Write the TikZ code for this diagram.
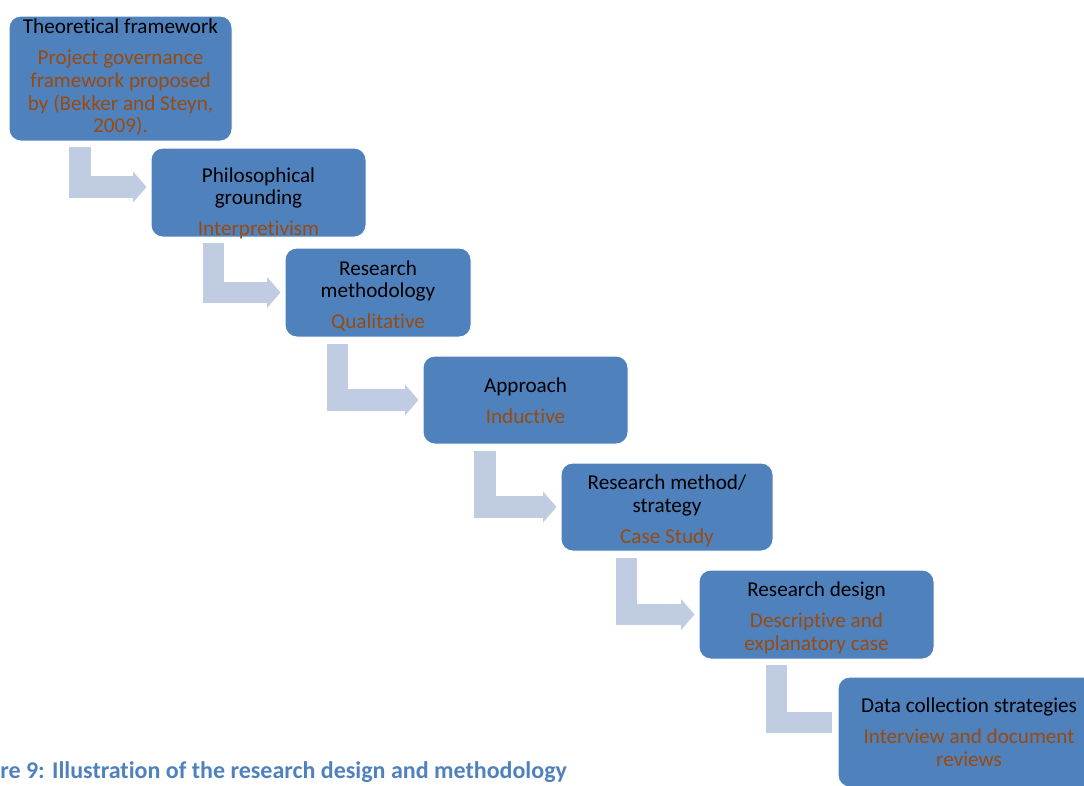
\documentclass[tikz,border=0pt]{standalone}
\usepackage{fontspec}
\setmainfont[Ligatures=NoCommon]{Carlito}
\usetikzlibrary{arrows.meta}
\definecolor{boxFill}{HTML}{4F81BD}
\definecolor{subText}{HTML}{9A4A0E}
\definecolor{arrowFill}{HTML}{C0CCE2}
\definecolor{captionBlue}{HTML}{4F81BD}
\newcommand{\subline}[1]{\textcolor{subText}{#1}}
\tikzset{
  stage/.style={
    draw=white, fill=boxFill, rounded corners=7pt, line width=0.6pt,
    inner sep=0pt,
  },
  stagetext/.style={
    inner sep=0pt, align=center, text=black,
    font=\fontsize{12.7}{13.6}\selectfont,
  },
  bentarrow/.style={
    -{Triangle[length=8pt, width=18pt]}, line width=12.9pt, draw=arrowFill,
    shorten >=2.4pt,
  },
  bentbar/.style={
    line width=12.9pt, draw=arrowFill, shorten >=3.6pt,
  },
}

\begin{document}
\begin{tikzpicture}[x=0.6pt, y=-0.6pt]
  \useasboundingbox (0,0) rectangle (1084,785);

  % === Stage boxes ===
  \node[stage, minimum width=133.8pt, minimum height=75pt] (theory) at (120.5,78.5) {};
  \node[stage, minimum width=129pt, minimum height=53.4pt] (philo) at (258.5,192.5) {};
  \node[stage, minimum width=111.6pt, minimum height=53.4pt] (method) at (378,292.5) {};
  \node[stage, minimum width=123pt, minimum height=52.8pt] (approach) at (525.5,400) {};
  \node[stage, minimum width=127.2pt, minimum height=52.8pt] (strategy) at (667,507) {};
  \node[stage, minimum width=141pt, minimum height=53.4pt] (design) at (816.5,614.5) {};
  \node[stage, minimum width=157.2pt, minimum height=66pt] (collect) at (969,732) {};

  % === Stage texts (set a little lower than the box centres, as in the figure) ===
  \node[stagetext] (theoryText) at (120.5,77.5)
    {Theoretical framework\\[5pt]\subline{Project governance}\\\subline{framework proposed}\\\subline{by (Bekker and Steyn,}\\\subline{2009).}};
  \node[stagetext] (philoText) at (258.5,203.5)
    {Philosophical\\grounding\\[5pt]\subline{Interpretivism}};
  \node[stagetext] (methodText) at (378,296)
    {Research\\methodology\\[5pt]\subline{Qualitative}};
  \node[stagetext] (approachText) at (525.5,400.5)
    {Approach\\[5pt]\subline{Inductive}};
  \node[stagetext] (strategyText) at (667,511)
    {Research method/\\strategy\\[5pt]\subline{Case Study}};
  \node[stagetext] (designText) at (816.5,618)
    {Research design\\[5pt]\subline{Descriptive and}\\\subline{explanatory case}};
  \node[stagetext] (collectText) at (969,732)
    {Data collection strategies\\[5pt]\subline{Interview and document}\\\subline{reviews}};

  % === Bent arrows ===
  \coordinate (s1) at (80,147);
  \coordinate (s2) at (213.5,243);
  \coordinate (s3) at (337.5,344);
  \coordinate (s4) at (485,451);
  \coordinate (s5) at (626.5,558);
  \coordinate (s6) at (776.5,665);
  \draw[bentarrow] (s1) |- ([yshift=3.3pt]philo.west);
  \draw[bentarrow] (s2) |- (method.west);
  \draw[bentarrow] (s3) |- (approach.west);
  \draw[bentarrow] (s4) |- (strategy.west);
  \draw[bentarrow] (s5) |- (design.west);
  \draw[bentbar] (s6) |- ([yshift=5.7pt]collect.west);

  % === Caption ===
  \node[anchor=base west, inner sep=0pt, text=captionBlue, font=\fontsize{14.4}{16}\selectfont\bfseries] (caption) at (0,778)
    {re 9: Illustration of the research design and methodology};

\end{tikzpicture}
\end{document}
